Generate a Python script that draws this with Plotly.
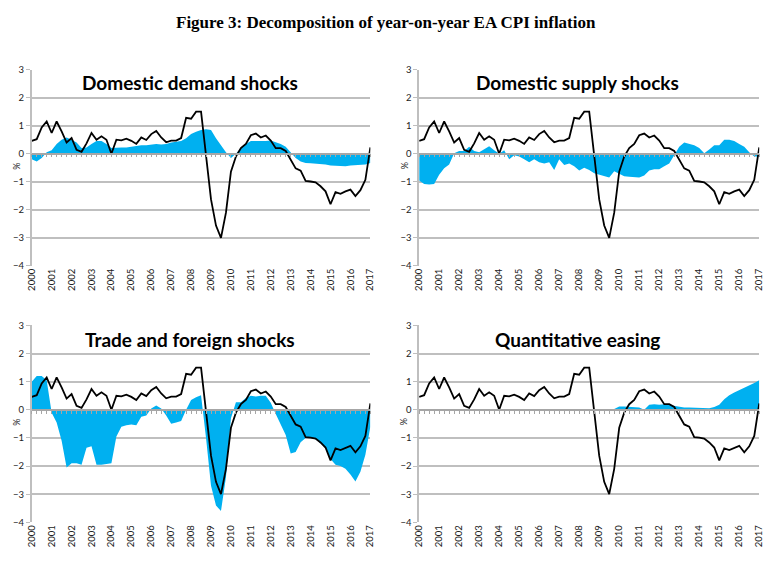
import plotly.graph_objects as go

# ---------------- data (quarterly, 2000Q1 .. 2017Q1) ----------------
years = [str(y) for y in range(2000, 2018)]

inflation = [0.46, 0.52, 0.94, 1.15, 0.74, 1.15, 0.80, 0.40, 0.56, 0.14,
             0.07, 0.37, 0.74, 0.50, 0.62, 0.50, 0.00, 0.50, 0.48, 0.54,
             0.46, 0.35, 0.58, 0.49, 0.70, 0.81, 0.58, 0.41, 0.47, 0.47,
             0.56, 1.28, 1.25, 1.50, 1.50, 0.00, -1.63, -2.56, -3.00, -2.10,
             -0.64, -0.10, 0.20, 0.35, 0.66, 0.72, 0.58, 0.65, 0.47, 0.20,
             0.20, 0.10, -0.23, -0.52, -0.60, -0.97, -0.99, -1.02, -1.16, -1.34,
             -1.80, -1.37, -1.43, -1.34, -1.28, -1.51, -1.30, -0.93, 0.23]

demand = [-0.20, -0.28, -0.15, 0.05, 0.12, 0.35, 0.50, 0.58, 0.50, 0.40,
          0.20, 0.22, 0.35, 0.45, 0.45, 0.35, 0.20, 0.22, 0.22, 0.22,
          0.25, 0.28, 0.30, 0.30, 0.32, 0.35, 0.33, 0.35, 0.40, 0.42,
          0.45, 0.55, 0.70, 0.78, 0.85, 0.87, 0.85, 0.55, 0.30, 0.05,
          -0.15, 0.00, 0.20, 0.35, 0.45, 0.45, 0.43, 0.45, 0.47, 0.40,
          0.35, 0.25, 0.05, -0.15, -0.28, -0.33, -0.34, -0.35, -0.36, -0.38,
          -0.42, -0.43, -0.45, -0.45, -0.42, -0.40, -0.40, -0.38, -0.33]

supply = [-0.95, -1.08, -1.10, -1.08, -0.75, -0.52, -0.38, 0.02, 0.10, 0.10,
          0.25, 0.10, 0.05, 0.15, 0.27, 0.12, 0.00, 0.12, -0.20, -0.05,
          -0.10, -0.20, -0.30, -0.20, -0.30, -0.35, -0.30, -0.58, -0.20, -0.40,
          -0.35, -0.45, -0.60, -0.50, -0.58, -0.70, -0.75, -0.80, -0.85, -0.62,
          -0.70, -0.80, -0.82, -0.83, -0.85, -0.78, -0.60, -0.55, -0.55, -0.45,
          -0.35, -0.05, 0.25, 0.40, 0.35, 0.30, 0.20, 0.02, 0.15, 0.30,
          0.30, 0.50, 0.50, 0.45, 0.35, 0.25, 0.05, -0.10, -0.10]

trade = [1.00, 1.20, 1.20, 1.05, -0.10, -0.45, -1.10, -2.05, -1.90, -1.90,
         -1.95, -1.35, -1.30, -1.95, -1.95, -1.93, -1.90, -0.95, -0.60, -0.55,
         -0.52, -0.55, -0.25, -0.20, 0.05, 0.15, 0.05, -0.20, -0.50, -0.45,
         -0.40, 0.00, 0.35, 0.45, 0.52, -1.00, -2.70, -3.40, -3.60, -2.40,
         -0.30, 0.27, 0.27, 0.42, 0.50, 0.47, 0.50, 0.50, 0.25, -0.15,
         -0.50, -0.90, -1.55, -1.50, -1.15, -1.00, -1.00, -1.05, -1.20, -1.35,
         -1.75, -1.95, -2.00, -2.10, -2.30, -2.55, -2.20, -1.60, -0.60]

qe = [0.00, 0.00, 0.00, 0.00, 0.00, 0.00, 0.00, 0.00, 0.00, 0.00,
      0.00, 0.00, 0.00, 0.00, 0.00, 0.00, 0.00, 0.00, 0.00, 0.00,
      0.00, 0.00, 0.00, 0.00, 0.00, 0.00, 0.00, 0.00, 0.00, 0.00,
      0.00, 0.00, 0.00, 0.00, 0.00, 0.00, 0.00, 0.00, 0.01, 0.03,
      0.12, 0.12, 0.10, 0.10, 0.08, 0.00, 0.18, 0.20, 0.18, 0.20,
      0.17, 0.12, 0.10, 0.08, 0.08, 0.08, 0.08, 0.07, 0.06, 0.10,
      0.18, 0.38, 0.52, 0.62, 0.70, 0.77, 0.85, 0.95, 1.05]

panel_titles = ["Domestic demand shocks", "Domestic supply shocks",
                "Trade and foreign shocks", "Quantitative easing"]
components = [demand, supply, trade, qe]
main_title = "Figure 3: Decomposition of year-on-year EA CPI inflation"

# ---------------- layout geometry ----------------
OFF = 8                      # page body margin in the browser
W, H = 782 - OFF, 567 - OFF  # figure size so that it fills the window
quarters = list(range(len(inflation)))
tickvals = list(range(0, len(inflation), 4))


def px(x):
    return (x - OFF) / W


def py(y):
    return 1 - (y - OFF) / H


# pixel boxes in window coordinates: (left, right, top, bottom)
boxes = [(26, 369.5, 64.7, 265), (419, 764, 64.7, 265),
         (26, 369.5, 325.7, 526.5), (419, 764, 325.7, 526.5)]
title_pos = [(187, 78), (580, 78), (187, 340), (580, 340)]

YMIN, YMAX = -4, 3
BLUE = "#00B0F0"
GRID = "#BFBFBF"

fig = go.Figure()
layout = dict(width=W, height=H, margin=dict(l=0, r=0, t=0, b=0),
              paper_bgcolor="white", plot_bgcolor="white", showlegend=False,
              font=dict(family="Lato, Liberation Sans, sans-serif", color="#222"))
annotations = []

for i, (comp, ttl, (l, r, t, b), (tx, ty)) in enumerate(zip(components, panel_titles, boxes, title_pos)):
    n = i + 1
    xa = "x" if n == 1 else f"x{n}"
    ya = "y" if n == 1 else f"y{n}"
    zx = f"x{n + 4}"  # overlay axis carrying the zero line with quarter ticks
    xdom = [px(l), px(r)]
    ydom = [py(b), py(t)]
    zero_pos = ydom[0] + (0 - YMIN) / (YMAX - YMIN) * (ydom[1] - ydom[0])

    fig.add_trace(go.Scatter(x=quarters, y=comp, mode="lines", fill="tozeroy",
                             fillcolor=BLUE, line=dict(width=0, color=BLUE),
                             xaxis=xa, yaxis=ya, hoverinfo="skip"))
    fig.add_trace(go.Scatter(x=quarters, y=inflation, mode="lines",
                             line=dict(width=1.8, color="black"),
                             xaxis=zx, yaxis=ya, hoverinfo="skip"))

    xkey = "xaxis" if n == 1 else f"xaxis{n}"
    ykey = "yaxis" if n == 1 else f"yaxis{n}"
    layout[xkey] = dict(domain=xdom, anchor=ya, range=[0, len(inflation) - 1],
                        tickmode="array", tickvals=tickvals, ticktext=years,
                        tickangle=-90, ticks="", showgrid=False, zeroline=False,
                        showline=False, tickfont=dict(size=9.5, color="#222"))
    layout[ykey] = dict(domain=ydom, anchor=xa, range=[YMIN, YMAX],
                        tickvals=list(range(YMIN, YMAX + 1)), showgrid=True,
                        gridcolor=GRID, gridwidth=1.5, zeroline=False,
                        showline=True, linecolor=GRID, linewidth=1.5,
                        ticks="outside", ticklen=4, tickcolor=GRID, tickwidth=1,
                        tickfont=dict(size=9.5, color="#222"))
    layout[f"xaxis{n + 4}"] = dict(overlaying=xa, matches=xa, anchor="free",
                                   position=zero_pos, range=[0, len(inflation) - 1],
                                   showticklabels=False, ticks="outside",
                                   tickmode="linear", tick0=0, dtick=1,
                                   ticklen=3, tickcolor="#A6A6A6", tickwidth=1,
                                   showline=True, linecolor="#A6A6A6", linewidth=1.5,
                                   showgrid=False, zeroline=False)
    annotations.append(dict(text=f"<b>{ttl}</b>", x=px(tx), y=py(ty),
                            xref="paper", yref="paper", showarrow=False,
                            xanchor="center", yanchor="middle",
                            font=dict(size=19, family="Lato, sans-serif", color="black")))
    annotations.append(dict(text="%", x=px(l - 15), y=py((t + b) / 2 - 2),
                            xref="paper", yref="paper", showarrow=False,
                            textangle=-90, xanchor="center", yanchor="middle",
                            font=dict(size=9, color="#222")))

annotations.append(dict(text=f"<b>{main_title}</b>", x=px(385), y=py(17),
                        xref="paper", yref="paper", showarrow=False,
                        xanchor="center", yanchor="middle",
                        font=dict(size=17, family="Liberation Serif, serif", color="black")))
layout["annotations"] = annotations
fig.update_layout(**layout)
fig.write_html("out.html")
